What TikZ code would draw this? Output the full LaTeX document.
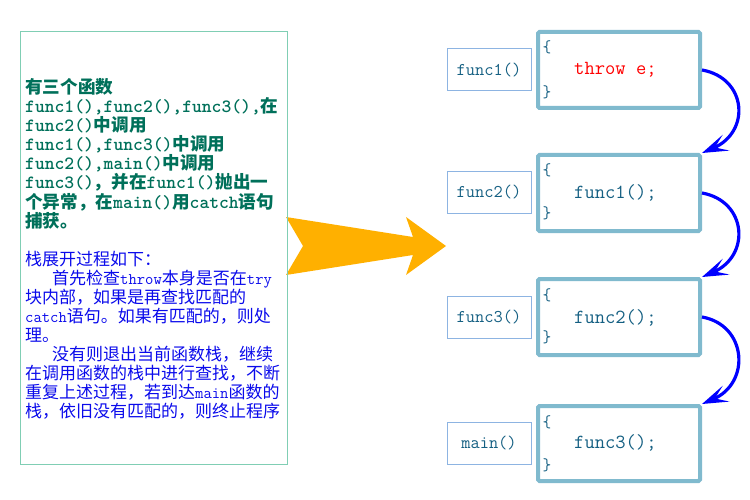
\documentclass[tikz,border=0pt]{standalone}
\usepackage{fontspec}
\newfontfamily\cjk{Noto Sans CJK SC}
\usetikzlibrary{arrows.meta,calc}
\definecolor{lborder}{RGB}{128,206,180}
\definecolor{gtext}{RGB}{0,112,90}
\definecolor{btext}{RGB}{10,10,235}
\definecolor{sbox}{RGB}{141,180,226}
\definecolor{bbox}{RGB}{128,186,206}
\definecolor{codec}{RGB}{20,95,130}
\definecolor{redc}{RGB}{255,0,0}
\definecolor{arrblue}{RGB}{0,0,255}
\definecolor{orangec}{RGB}{255,176,0}
\newcommand\zg[1]{{\cjk\fontsize{17.6}{19}\selectfont #1}}
\newcommand\zb[1]{{\cjk\fontsize{17}{19}\selectfont #1}}
\tikzset{
  gline/.style={anchor=base west, inner sep=0pt, text=gtext, font=\ttfamily\bfseries\fontsize{18.7}{19}\selectfont},
  bline/.style={anchor=base west, inner sep=0pt, text=btext, font=\ttfamily\fontsize{16.2}{19}\selectfont},
  sbox/.style={draw=sbox, line width=1pt, minimum width=84pt, minimum height=42pt, inner sep=0pt, text=codec, font=\ttfamily\fontsize{17.9}{18}\selectfont},
  bigbox/.style={draw=bbox, line width=4pt, rounded corners=1.5pt, minimum width=162pt, minimum height=76pt, inner sep=0pt},
  brace/.style={inner sep=0pt, text=codec, font=\ttfamily\fontsize{17}{18}\selectfont},
  code/.style={anchor=west, inner sep=0pt, text=codec, font=\ttfamily\fontsize{20}{22}\selectfont},
  flow/.style={draw=arrblue, line width=3.2pt, -{Stealth[length=26pt,width=17pt,inset=12pt]}}
}
\begin{document}
\begin{tikzpicture}[x=1pt,y=-1pt]
\useasboundingbox (0,0) rectangle (750,500);
% orange arrow
\fill[orangec] (286,217) -- (413,237) -- (406,217) -- (446,246) -- (406,275) -- (413,255) -- (286,275) -- (303,246) -- cycle;
% left panel
\node[draw=lborder, line width=1pt, outer sep=0pt, inner sep=0pt, minimum width=267pt, minimum height=432pt, anchor=north west] (panel) at (20,32) {};
\node[gline] (g1) at (25,94) {\zg{有三个函数}};
\node[gline] (g2) at (25,113) {func1(),func2(),func3(),\zg{在}};
\node[gline] (g3) at (25,132) {func2()\zg{中调用}};
\node[gline] (g4) at (25,151) {func1(),func3()\zg{中调用}};
\node[gline] (g5) at (25,170) {func2(),main()\zg{中调用}};
\node[gline] (g6) at (25,189) {func3()\zg{，并在}func1()\zg{抛出一}};
\node[gline] (g7) at (25,208) {\zg{个异常，在}main()\zg{用}catch\zg{语句}};
\node[gline] (g8) at (25,227) {\zg{捕获。}};
\node[bline] (t1) at (25,265) {\zb{栈展开过程如下：}};
\node[bline] (t2) at (52,284) {\zb{首先检查}throw\zb{本身是否在}try};
\node[bline] (t3) at (25,303) {\zb{块内部，如果是再查找匹配的}};
\node[bline] (t4) at (25,322) {catch\zb{语句。如果有匹配的，则处}};
\node[bline] (t5) at (25,341) {\zb{理。}};
\node[bline] (t6) at (52,360) {\zb{没有则退出当前函数栈，继续}};
\node[bline] (t7) at (25,379) {\zb{在调用函数的栈中进行查找，不断}};
\node[bline] (t8) at (25,398) {\zb{重复上述过程，若到达}main\zb{函数的}};
\node[bline] (t9) at (25,417) {\zb{栈，依旧没有匹配的，则终止程序}};
% labels
\node[sbox] (l1) at (489,70) {func1()};
\node[sbox] (l2) at (489,192.5) {func2()};
\node[sbox] (l3) at (489,317) {func3()};
\node[sbox] (l4) at (489,443.5) {main()};
% big boxes
\node[bigbox] (b1) at (619,70) {};
\node[bigbox] (b2) at (619,193) {};
\node[bigbox] (b3) at (619,317) {};
\node[bigbox, minimum height=75pt] (b4) at (619,443.5) {};
% braces and code
\node[brace] (o1) at (547,47) {\{};
\node[brace] (e1) at (547,92) {\}};
\node[code, text=redc] (c1) at (574,70) {throw e;};
\node[brace] (o2) at (547,170) {\{};
\node[brace] (e2) at (547,213) {\}};
\node[code] (c2) at (574,193) {func1();};
\node[brace] (o3) at (547,295) {\{};
\node[brace] (e3) at (547,337) {\}};
\node[code] (c3) at (574,318) {func2();};
\node[brace] (o4) at (547,422) {\{};
\node[brace] (e4) at (547,465) {\}};
\node[code] (c4) at (574,443) {func3();};
% blue arrows
\draw[flow] (b1.east) .. controls ($(b1.east)+(45,8)$) and ($(b2.north east)+(49,-21)$) .. (b2.north east);
\draw[flow] (b2.east) .. controls ($(b2.east)+(45,8)$) and ($(b3.north east)+(49,-21)$) .. (b3.north east);
\draw[flow] (b3.east) .. controls ($(b3.east)+(45,8)$) and ($(b4.north east)+(49,-21)$) .. (b4.north east);
\end{tikzpicture}
\end{document}
